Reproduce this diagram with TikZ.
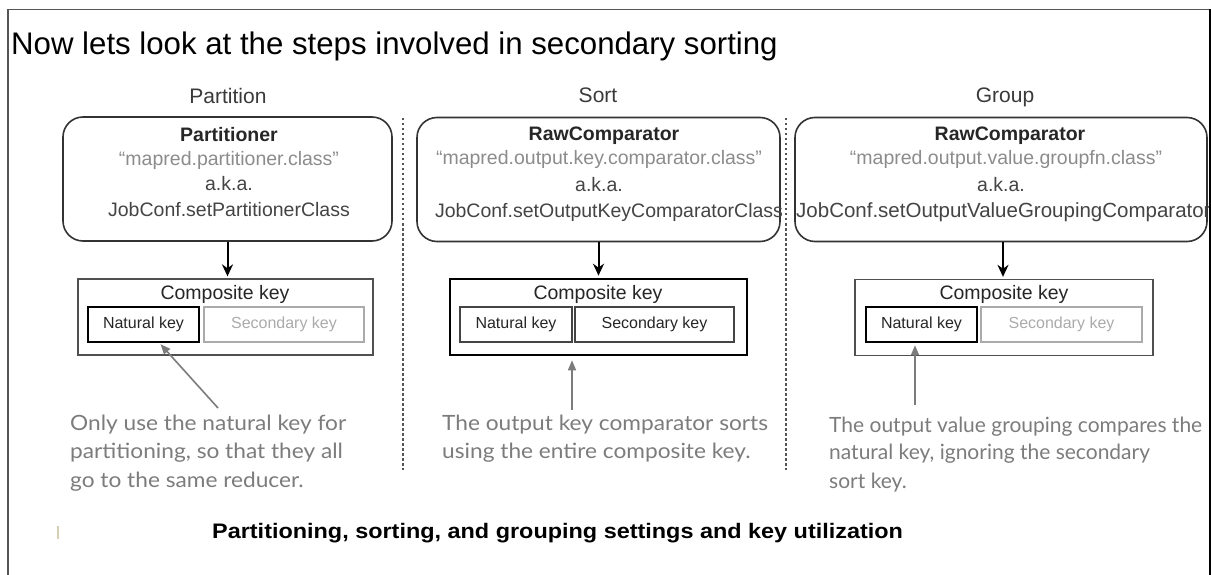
\documentclass[tikz,border=0pt]{standalone}
\usepackage{fontspec}
\setmainfont{Liberation Sans}
\newfontfamily\notefont{Lato}
\usetikzlibrary{arrows.meta,calc}
\definecolor{hdrc}{HTML}{3A3A3A}
\definecolor{txtc}{HTML}{262626}
\definecolor{grayc}{HTML}{8C8C8C}
\definecolor{darkc}{HTML}{444444}
\definecolor{boxc}{HTML}{333333}
\definecolor{cboxc}{HTML}{505050}
\definecolor{faintc}{HTML}{ABABAB}
\definecolor{notec}{HTML}{7C7C7C}
\definecolor{sepc}{HTML}{555555}
\definecolor{framec}{HTML}{555555}
\definecolor{markc}{HTML}{D6D0B4}
\newcommand\myfs[1]{\fontsize{#1}{#1}\selectfont}
\newcommand\notewide[1]{\scalebox{1.08}[1]{#1}}
\newcommand\capwide[1]{\scalebox{1.115}[1]{#1}}
\begin{document}
\begin{tikzpicture}[x=1pt,y=-1pt,
  hdr/.style={font=\myfs{21}, text=hdrc, inner sep=0pt, anchor=base},
  rbox/.style={draw=boxc, line width=1.6pt, rounded corners=20pt, minimum height=124pt, inner sep=0pt},
  btitle/.style={font=\bfseries\myfs{19.5}, text=txtc, anchor=base, inner sep=0pt},
  bgray/.style={font=\myfs{19.5}, text=grayc, anchor=base, inner sep=0pt},
  bdark/.style={font=\myfs{19.5}, text=darkc, anchor=base, inner sep=0pt},
  cbox/.style={draw=cboxc, line width=1.3pt, minimum height=76pt, inner sep=0pt},
  ckey/.style={font=\myfs{19.5}, text=txtc, anchor=base, inner sep=0pt},
  kbox/.style={minimum height=35pt, inner sep=0pt, font=\myfs{16}},
  keystrong/.style={kbox, draw=black, line width=2.4pt, text=txtc},
  keyplain/.style={kbox, draw=darkc, line width=1.4pt, text=txtc},
  keyfaint/.style={kbox, draw=faintc, line width=1.3pt, text=faintc},
  flow/.style={draw=black, line width=2pt, -{Stealth[length=12pt,width=11pt]}},
  pointer/.style={draw=notec, line width=1.6pt, -{Triangle[length=10pt,width=8pt]}},
  note/.style={font=\notefont\myfs{21}, text=notec, anchor=base west, inner sep=0pt},
  sep/.style={draw=sepc, line width=1.4pt, dash pattern=on 2.5pt off 2.5pt},
]
\useasboundingbox (0,0) rectangle (1211,575);
\fill[white] (0,0) rectangle (1211,575);
\begin{scope}
\clip (0,0) rectangle (1209,575);
% title
\node[anchor=base west, inner sep=0pt, font=\myfs{31.2}] (title) at (11,55) {Now lets look at the steps involved in secondary sorting};
% headings
\node[hdr] (h1) at (228,104) {Partition};
\node[hdr] (h2) at (598,103) {Sort};
\node[hdr] (h3) at (1005,103) {Group};
% separators
\coordinate (s1a) at (403,118); \coordinate (s1b) at (403,470);
\coordinate (s2a) at (786,118); \coordinate (s2b) at (786,470);
\draw[sep] (s1a) -- (s1b);
\draw[sep] (s2a) -- (s2b);
% rounded boxes
\node[rbox, minimum width=329pt] (b1) at (227.5,179) {};
\node[rbox, minimum width=363pt] (b2) at (598.5,179.5) {};
\node[rbox, minimum width=412pt] (b3) at (1001,179.5) {};
\node[btitle] (b1t) at (229,142) {Partitioner};
\node[bgray]  (b1c) at (229,166) {“mapred.partitioner.class”};
\node[bdark]  (b1a) at (229,190) {a.k.a.};
\node[bdark]  (b1j) at (229,217) {JobConf.setPartitionerClass};
\node[btitle] (b2t) at (604,141) {RawComparator};
\node[bgray]  (b2c) at (599,165) {“mapred.output.key.comparator.class”};
\node[bdark]  (b2a) at (599,192) {a.k.a.};
\node[bdark]  (b2j) at (609,218) {JobConf.setOutputKeyComparatorClass};
\node[btitle] (b3t) at (1010,141) {RawComparator};
\node[bgray]  (b3c) at (1006,165) {“mapred.output.value.groupfn.class”};
\node[bdark]  (b3a) at (1001,192) {a.k.a.};
\node[bdark, anchor=base west, font=\myfs{20.5}] (b3j) at (796,218) {JobConf.setOutputValueGroupingComparator};
% composite boxes
\node[cbox, minimum width=295pt] (c1) at (225.5,317) {};
\node[cbox, minimum width=297pt, draw=black, line width=2.6pt] (c2) at (598.5,317) {};
\node[cbox, minimum width=298pt] (c3) at (1004,317.5) {};
\node[ckey] (c1l) at (225,299) {Composite key};
\node[ckey] (c2l) at (598,299) {Composite key};
\node[ckey] (c3l) at (1004,299) {Composite key};
\node[keystrong, minimum width=111pt] (n1) at (143.5,324.5) {Natural key};
\node[keyfaint,  minimum width=160pt] (k1) at (284,324.5) {Secondary key};
\node[keyplain,  minimum width=112pt] (n2) at (516,324.5) {Natural key};
\node[keyplain,  minimum width=159pt] (k2) at (654.5,324.5) {Secondary key};
\node[keystrong, minimum width=111pt] (n3) at (921.5,324.5) {Natural key};
\node[keyfaint,  minimum width=161pt] (k3) at (1061.5,324.5) {Secondary key};
% flow arrows
\draw[flow, shorten >=2pt] (b1.south) -- (b1.south |- c1.north);
\draw[flow, shorten >=2pt] (b2.south) -- (b2.south |- c2.north);
\draw[flow, shorten >=2pt] ($(b3.south)+(2,0)$) -- ($(b3.south |- c3.north)+(2,0)$);
% notes
\node[note] (t1a) at (70,430) {\notewide{Only use the natural key for}};
\node[note] (t1b) at (70,458) {\notewide{partitioning, so that they all}};
\node[note] (t1c) at (70,487) {\notewide{go to the same reducer.}};
\node[note] (t2a) at (442,430) {\notewide{The output key comparator sorts}};
\node[note] (t2b) at (442,458) {\notewide{using the entire composite key.}};
\node[note] (t3a) at (829,432) {The output value grouping compares the};
\node[note] (t3b) at (829,459) {natural key, ignoring the secondary};
\node[note] (t3c) at (829,488) {sort key.};
% pointers
\coordinate (p1) at (218,408);
\coordinate (p2) at (572,410);
\coordinate (p3) at (915,405);
\draw[pointer] (p1) -- ($(n1.south)+(17,1)$);
\draw[pointer] (p2) -- ($(c2.south -| p2)+(0,4)$);
\draw[pointer] (p3) -- ($(n3.south -| p3)+(0,2)$);
% caption
\node[anchor=base west, inner sep=0pt, font=\bfseries\myfs{21}, text=black] (cap) at (212,538) {\capwide{Partitioning, sorting, and grouping settings and key utilization}};
\coordinate (m1) at (58,526); \coordinate (m2) at (58,539);
\draw[markc, line width=1.2pt] (m1) -- (m2);
\end{scope}
% frame
\coordinate (f1) at (8,575); \coordinate (f2) at (8,9.5);
\coordinate (f3) at (1210,9.5); \coordinate (f4) at (1210,575);
\draw[framec, line width=1.8pt] (f1) -- (f2) -- (f3);
\draw[black, line width=1.8pt] (f3) -- (f4);
\end{tikzpicture}
\end{document}
